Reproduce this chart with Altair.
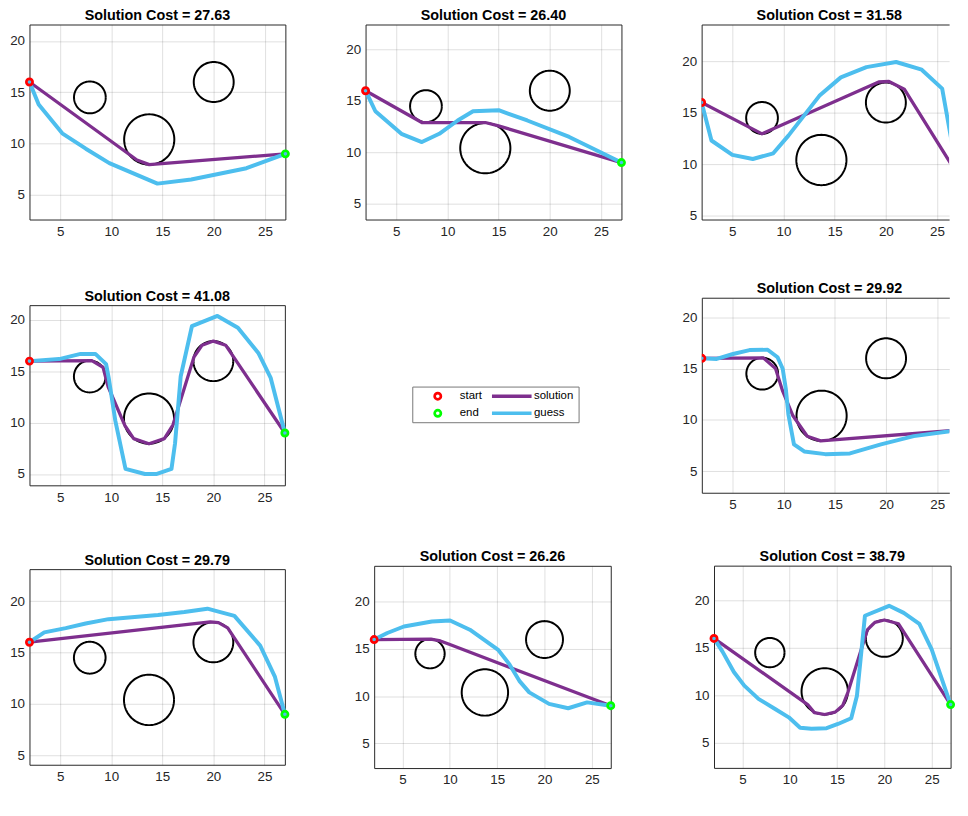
import altair as alt
import numpy as np
import pandas as pd

# ---------------- data ----------------
obs_x = [7.9, 13.7, 20.0]
obs_y = [14.5, 10.4, 16.0]
obs_r = [1.55, 2.45, 1.95]
start_pt = [2, 16]
end_pt = [27, 9]

costs = ["27.63", "26.40", "31.58", "41.08", "29.92", "29.79", "26.26", "38.79"]

sol1_x = [2, 12.5, 13.7, 27]
sol1_y = [16, 8.4, 7.95, 9]
guess1_x = [2, 2.9, 5.2, 7.5, 9.8, 14.5, 17.8, 23.2, 27]
guess1_y = [16, 13.8, 11.0, 9.5, 8.1, 6.1, 6.5, 7.6, 9]

sol2_x = [2, 7.5, 13.7, 14.9, 27]
sol2_y = [16, 12.9, 12.9, 12.6, 9]
guess2_x = [2, 2.96, 5.5, 7.5, 9.2, 11.0, 12.5, 15.0, 17.8, 21.9, 27]
guess2_y = [16, 14.0, 11.8, 11.0, 11.8, 13.1, 14.0, 14.1, 13.1, 11.5, 9]

sol3_x = [2, 7.9, 19.3, 20.3, 21.8, 27]
sol3_y = [16, 12.95, 18.0, 18.05, 17.3, 9]
guess3_x = [2, 2.96, 5.0, 7.0, 9.0, 10.5, 13.5, 15.6, 18.1, 21.0, 23.5, 25.5, 27]
guess3_y = [16, 12.3, 10.9, 10.5, 11.05, 12.8, 16.65, 18.45, 19.45, 19.95, 19.2, 17.35, 9]

sol4_x = [2, 8.1, 9.2, 9.7, 11.35, 12.2, 13.7, 15.2, 16.05, 18.1, 18.9, 20.0, 21.2, 27]
sol4_y = [16, 16.05, 15.4, 13.5, 9.7, 8.45, 7.95, 8.45, 9.8, 16.4, 17.55, 17.95, 17.55, 9]
guess4_x = [2, 4.9, 7.0, 8.45, 9.5, 9.75, 10.4, 11.4, 13.3, 14.4, 15.9, 16.25, 16.8, 17.9, 20.4, 22.4, 24.4, 25.6, 27]
guess4_y = [16, 16.2, 16.7, 16.7, 15.7, 14.4, 10.2, 5.5, 5.0, 5.0, 5.5, 8.0, 14.5, 19.4, 20.4, 19.25, 16.8, 14.4, 9]

sol6_x = [2, 8.0, 9.2, 9.9, 10.9, 12.3, 13.6, 27]
sol6_y = [16, 16.05, 15.0, 12.8, 10.4, 8.4, 7.95, 9]
guess6_x = [2, 3.45, 5.05, 6.66, 8.43, 9.4, 9.9, 10.2, 10.46, 11.0, 12.0, 14.06, 16.47, 19.5, 22.7, 27]
guess6_y = [16, 15.94, 16.42, 16.8, 16.83, 16.1, 14.98, 13.06, 10.5, 7.62, 6.92, 6.66, 6.73, 7.62, 8.42, 9]

sol7_x = [2, 19.7, 20.5, 21.4, 27]
sol7_y = [16, 17.98, 17.9, 17.4, 9]
guess7_x = [2, 3.45, 5.55, 7.5, 9.74, 14.58, 17.16, 19.42, 20.23, 22.06, 24.58, 26.03, 27]
guess7_y = [16, 16.96, 17.37, 17.82, 18.24, 18.65, 18.94, 19.26, 19.04, 18.56, 15.67, 12.63, 9]

sol8_x = [2, 8.0, 9.0, 10.0, 27]
sol8_y = [16, 16.05, 15.85, 15.47, 9]
guess8_x = [2, 3.39, 5.14, 8.1, 10.02, 12.11, 15.07, 16.3, 17.34, 18.39, 20.48, 22.5, 24.5, 27]
guess8_y = [16, 16.69, 17.38, 17.91, 18.01, 17.04, 14.94, 13.37, 11.63, 10.41, 9.19, 8.73, 9.35, 9]

sol9_x = [2, 11.9, 12.6, 13.7, 14.8, 15.6, 16.15, 18.2, 19.0, 20.0, 21.5, 27]
sol9_y = [16, 9.0, 8.15, 7.95, 8.2, 8.9, 10.3, 16.9, 17.7, 17.95, 17.55, 9]
guess9_x = [2, 2.9, 4.1, 5.2, 6.7, 8.5, 9.9, 11.1, 12.3, 13.9, 15.1, 16.5, 17.1, 17.95, 20.5, 22.05, 23.7, 25.0, 27]
guess9_y = [16, 14.6, 12.45, 11.0, 9.6, 8.5, 7.65, 6.55, 6.45, 6.5, 6.95, 7.55, 9.9, 18.4, 19.45, 18.7, 17.55, 14.85, 9]

legend_pts = ["start", "end"]
legend_lines = ["solution", "guess"]

# ---------------- styles ----------------
FONT = "Liberation Sans"
PURPLE = "#7E2F8E"
BLUE = "#4DBEEE"
RED = "#ff0000"
GREEN = "#00ff00"
FRAME = "#262626"

theta = np.linspace(0, 2 * np.pi, 97)
circ_rows = []
for j, (cx, cy, r) in enumerate(zip(obs_x, obs_y, obs_r)):
    for k, t in enumerate(theta):
        circ_rows.append({"obs": j, "k": k, "x": cx + r * np.cos(t), "y": cy + r * np.sin(t)})
circ_df = pd.DataFrame(circ_rows)


def path_df(xs, ys):
    return pd.DataFrame({"x": xs, "y": ys, "k": list(range(len(xs)))})


def panel(cost, sx, sy, gx, gy, ydom, w, h, xmax=27, open_right=False):
    xsc = alt.Scale(domain=[2, xmax], nice=False, zero=False)
    ysc = alt.Scale(domain=ydom, nice=False, zero=False)
    xax = alt.Axis(values=[5, 10, 15, 20, 25], title=None, grid=True, domain=open_right,
                   domainColor=FRAME, domainWidth=1, ticks=False, labelPadding=5)
    yax = alt.Axis(values=[5, 10, 15, 20], title=None, grid=True, domain=open_right,
                   domainColor=FRAME, domainWidth=1, ticks=False, labelPadding=5)
    X = alt.X("x:Q", scale=xsc, axis=xax)
    Y = alt.Y("y:Q", scale=ysc, axis=yax)
    Xn = alt.X("x:Q", scale=xsc, axis=None) if open_right else X
    if open_right:
        Xtop = alt.X("x:Q", scale=xsc, axis=alt.Axis(orient="top", title=None, labels=False,
                                                      ticks=False, grid=False, domain=True,
                                                      domainColor=FRAME, domainWidth=1))
    else:
        Xtop = X
    clip = open_right
    circles = alt.Chart(circ_df).mark_line(color="black", strokeWidth=2, clip=clip).encode(
        x=X, y=Y, detail="obs:N", order="k:Q")
    sol = alt.Chart(path_df(sx, sy)).mark_line(
        color=PURPLE, strokeWidth=3.3, strokeJoin="round", strokeCap="round", clip=clip).encode(
        x=Xn, y=Y, order="k:Q")
    guess = alt.Chart(path_df(gx, gy)).mark_line(
        color=BLUE, strokeWidth=4, strokeJoin="round", strokeCap="round", clip=clip).encode(
        x=Xn, y=Y, order="k:Q")
    st = alt.Chart(pd.DataFrame({"x": [start_pt[0]], "y": [start_pt[1]]})).mark_point(
        shape="circle", filled=False, size=40, strokeWidth=2.7, color=RED, opacity=1,
        clip=clip).encode(x=Xtop, y=Y)
    en = alt.Chart(pd.DataFrame({"x": [end_pt[0]], "y": [end_pt[1]]})).mark_point(
        shape="circle", filled=False, size=40, strokeWidth=2.7, color=GREEN, opacity=1,
        clip=clip).encode(x=Xn, y=Y)
    props = dict(width=w, height=h,
                 title=alt.TitleParams(f"Solution Cost = {cost}", fontSize=14.5, fontWeight="bold",
                                       font=FONT, color="black", offset=1,
                                       anchor="middle", dx=4 if open_right else 0))
    if open_right:
        props["view"] = alt.ViewBackground(stroke="transparent")
    lay = alt.layer(circles, sol, guess, st, en).properties(**props)
    if open_right:
        lay = lay.resolve_axis(x="independent")
    return lay


W3 = 250
XMAX3 = 2 + W3 / 10.34

p1 = panel(costs[0], sol1_x, sol1_y, guess1_x, guess1_y, [2.6, 21.6], 258.5, 197)
p2 = panel(costs[1], sol2_x, sol2_y, guess2_x, guess2_y, [3.45, 22.45], 258.5, 197)
p3 = panel(costs[2], sol3_x, sol3_y, guess3_x, guess3_y, [4.6, 23.6], W3, 197,
           xmax=XMAX3, open_right=True)
p4 = panel(costs[3], sol4_x, sol4_y, guess4_x, guess4_y, [3.9, 21.45], 258, 182)
p6 = panel(costs[4], sol6_x, sol6_y, guess6_x, guess6_y, [2.9, 21.9], W3, 197,
           xmax=XMAX3, open_right=True)
p7 = panel(costs[5], sol7_x, sol7_y, guess7_x, guess7_y, [4.1, 23.1], 258, 197.6)
p8 = panel(costs[6], sol8_x, sol8_y, guess8_x, guess8_y, [2.4, 23.8], 239, 204.3)
p9 = panel(costs[7], sol9_x, sol9_y, guess9_x, guess9_y, [2.3, 23.7], 239, 204.3)

# ---------------- legend box ----------------
pts_leg = alt.Chart(pd.DataFrame({"item": legend_pts})).transform_filter("false").mark_point(
    shape="circle", filled=False, size=40, strokeWidth=2.7, opacity=1).encode(
    stroke=alt.Stroke("item:N", scale=alt.Scale(domain=legend_pts, range=[RED, GREEN]),
                      legend=alt.Legend(title=None, orient="none", legendX=20, legendY=3.7,
                                        direction="vertical", clipHeight=12, rowPadding=5.3,
                                        labelOffset=16.5, labelFontSize=11.5, labelFont=FONT,
                                        labelColor="black", symbolType="circle", symbolSize=40,
                                        symbolStrokeWidth=2.7, padding=0)))
ln_leg = alt.Chart(pd.DataFrame({"item": legend_lines})).transform_filter("false").mark_line(
    strokeWidth=3.3).encode(
    color=alt.Color("item:N", scale=alt.Scale(domain=legend_lines, range=[PURPLE, BLUE]),
                    legend=alt.Legend(title=None, orient="none", legendX=78.5, legendY=3.7,
                                      direction="vertical", clipHeight=12, rowPadding=5.3,
                                      labelOffset=0.5, labelFontSize=11.5, labelFont=FONT,
                                      labelColor="black", symbolType="stroke", symbolSize=1600,
                                      symbolStrokeWidth=3.5, padding=0)))
box = alt.layer(pts_leg, ln_leg).properties(
    width=168, height=36, view=alt.ViewBackground(stroke="#777777", strokeWidth=1))


def indep(c):
    return c.resolve_scale(color="independent", stroke="independent").resolve_legend(
        color="independent", stroke="independent")


def hc(*charts, spacing):
    return indep(alt.hconcat(*charts, spacing=spacing, center=True))


def vc(*charts, spacing):
    return indep(alt.vconcat(*charts, spacing=spacing))


row1 = hc(p1, p2, p3, spacing=50.5)
row2 = hc(hc(p4, box, spacing=117.7), p6, spacing=102.2)
row3 = hc(hc(p7, p8, spacing=59.2), p9, spacing=73.5)

chart = vc(vc(row1, row2, spacing=43), row3, spacing=37.3).properties(
    padding={"left": 0.7, "top": -4.3, "right": 0, "bottom": 0}
).configure_view(stroke=FRAME, strokeWidth=1).configure_axis(
    labelFont=FONT, labelFontSize=13.5, labelColor=FRAME,
    gridColor=FRAME, gridOpacity=0.15, gridWidth=1)

chart.save("out.html", embed_options={"renderer": "svg", "actions": False})
